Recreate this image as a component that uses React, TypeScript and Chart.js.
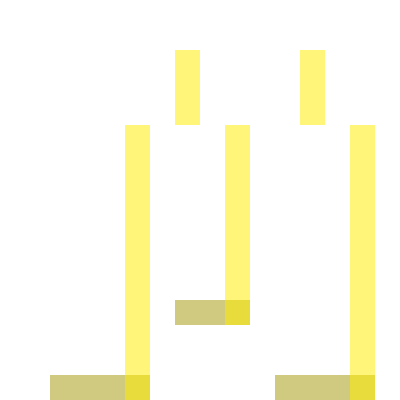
import { useEffect, useRef } from 'react';
import Chart, { ChartConfiguration } from 'chart.js/auto';

// vertical yellow bars: x position, bottom and top value
const barX = [5.5, 7.5, 9.5, 12.5, 14.5];
const barLow = [0, 11, 3, 11, 0];
const barHigh = [11, 14, 11, 14, 11];

// horizontal olive spans: y position, start and end value
const spanY = [0.5, 3.5, 0.5];
const spanStart = [2, 7, 11];
const spanEnd = [6, 10, 15];

const YELLOW = 'rgba(255, 236, 0, 0.53)';
const OLIVE = 'rgba(160, 149, 0, 0.5)';

const App = () => {
  const chartRef = useRef<HTMLCanvasElement>(null);
  const chartInstanceRef = useRef<Chart | null>(null);

  useEffect(() => {
    if (chartInstanceRef.current) {
      chartInstanceRef.current.destroy();
    }
    if (!chartRef.current) return;
    const ctx = chartRef.current.getContext('2d');
    if (!ctx) return;

    const spanSets = spanY.map((y, i) => ({
      data: [
        { x: spanStart[i], y },
        { x: spanEnd[i], y },
      ],
      borderColor: OLIVE,
      backgroundColor: OLIVE,
      borderWidth: 25,
      borderCapStyle: 'butt' as const,
      showLine: true,
      pointRadius: 0,
      order: 2,
    }));

    const barSets = barX.map((x, i) => ({
      data: [
        { x, y: barLow[i] },
        { x, y: barHigh[i] },
      ],
      borderColor: YELLOW,
      backgroundColor: YELLOW,
      borderWidth: 25,
      borderCapStyle: 'butt' as const,
      showLine: true,
      pointRadius: 0,
      order: 1,
    }));

    const config: ChartConfiguration<'scatter'> = {
      type: 'scatter',
      data: { datasets: [...spanSets, ...barSets] },
      options: {
        responsive: false,
        animation: false,
        layout: { padding: 0 },
        plugins: {
          legend: { display: false },
          tooltip: { enabled: false },
        },
        scales: {
          x: { type: 'linear', min: 0, max: 16, display: false },
          y: { type: 'linear', min: 0, max: 16, display: false },
        },
      },
    };

    chartInstanceRef.current = new Chart(ctx, config);

    return () => {
      if (chartInstanceRef.current) {
        chartInstanceRef.current.destroy();
        chartInstanceRef.current = null;
      }
    };
  }, []);

  return (
    <div style={{ position: 'absolute', left: 0, top: 0, width: 400, height: 400 }}>
      <canvas ref={chartRef} width={400} height={400}></canvas>
    </div>
  );
};

export default App;
